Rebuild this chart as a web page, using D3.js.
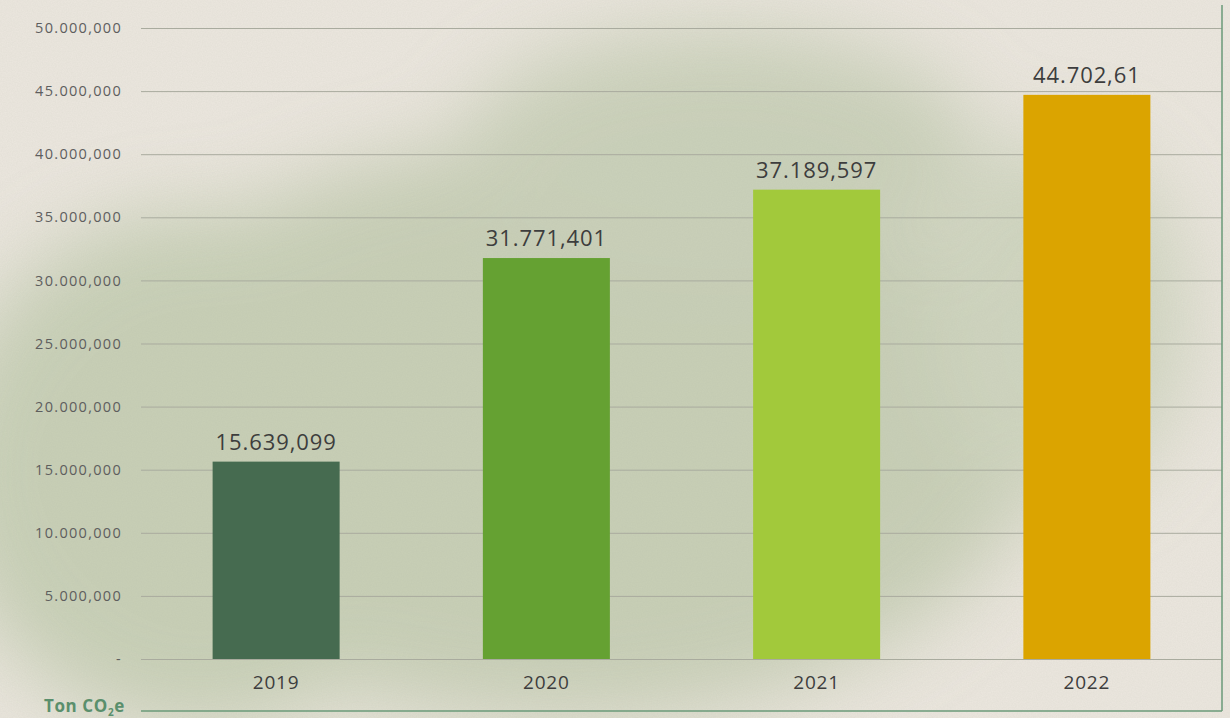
<!DOCTYPE html>
<html>
<head>
<meta charset="utf-8">
<script src="https://cdn.jsdelivr.net/npm/d3@7"></script>
<style>
  body { margin: 0; background: #ebe6de; }
  svg { display: block; }
</style>
</head>
<body>
<div id="chart"></div>
<script>
// data
var years = ["2019", "2020", "2021", "2022"];
var values = [15639099, 31771401, 37189597, 44702610];
var valueLabels = ["15.639,099", "31.771,401", "37.189,597", "44.702,61"];
var barColors = ["#466b50", "#65a132", "#a2c93b", "#dba400"];
var yTicks = [0, 5e6, 10e6, 15e6, 20e6, 25e6, 30e6, 35e6, 40e6, 45e6, 50e6];
var yTickLabels = ["-", "5.000,000", "10.000,000", "15.000,000", "20.000,000", "25.000,000",
                   "30.000,000", "35.000,000", "40.000,000", "45.000,000", "50.000,000"];

var width = 1230, height = 718;
var plotLeft = 141, plotRight = 1222, plotTop = 28, plotBottom = 659;
var font = "'Open Sans', 'DejaVu Sans', sans-serif";

var svg = d3.select("#chart").append("svg")
    .attr("width", width).attr("height", height);

var defs = svg.append("defs");
var blur = defs.append("filter").attr("id", "blur")
    .attr("x", "-50%").attr("y", "-50%").attr("width", "200%").attr("height", "200%");
blur.append("feGaussianBlur").attr("stdDeviation", 40);

var grain = defs.append("filter").attr("id", "grain");
grain.append("feTurbulence").attr("type", "fractalNoise").attr("baseFrequency", 0.8)
    .attr("numOctaves", 2).attr("seed", 3);
grain.append("feColorMatrix").attr("type", "matrix")
    .attr("values", "0 0 0 0 0.35  0 0 0 0 0.38  0 0 0 0 0.3  0 0 0 0.12 0");

// paper + watercolor wash
svg.append("rect").attr("width", width).attr("height", height).attr("fill", "#ece7df");
var wash = svg.append("g").attr("filter", "url(#blur)").attr("opacity", 0.7);
wash.append("ellipse").attr("cx", 560).attr("cy", 430).attr("rx", 480).attr("ry", 290).attr("fill", "#b9c5a6");
wash.append("ellipse").attr("cx", 200).attr("cy", 470).attr("rx", 260).attr("ry", 260).attr("fill", "#b9c6a6");
wash.append("ellipse").attr("cx", 720).attr("cy", 150).attr("rx", 260).attr("ry", 120).attr("fill", "#bdc8ab");
wash.append("ellipse").attr("cx", 1060).attr("cy", 320).attr("rx", 130).attr("ry", 180).attr("fill", "#c4ceb3");
svg.append("rect").attr("width", width).attr("height", height).attr("filter", "url(#grain)");

var x = d3.scaleBand().domain(years).range([plotLeft, plotRight]).paddingInner(0.53).paddingOuter(0.265);
var y = d3.scaleLinear().domain([0, 50e6]).range([plotBottom, plotTop]);

// gridlines + y labels
var yAxis = d3.axisLeft(y).tickValues(yTicks)
    .tickSize(-(plotRight - plotLeft)).tickPadding(19)
    .tickFormat(function(d, i) { return yTickLabels[i]; });
var gy = svg.append("g").attr("transform", "translate(" + plotLeft + ",0)").call(yAxis);
gy.select(".domain").remove();
gy.selectAll(".tick line").attr("stroke", "#a9ab9e").attr("stroke-width", 1);
gy.selectAll(".tick text").attr("fill", "#5e5e5e").style("font-family", font)
    .style("font-size", "14.5px").style("letter-spacing", "1.3px").attr("x", -19);

// bars
svg.append("g").selectAll("rect").data(values).join("rect")
    .attr("x", function(d, i) { return x(years[i]); })
    .attr("y", function(d) { return y(d); })
    .attr("width", x.bandwidth())
    .attr("height", function(d) { return y(0) - y(d); })
    .attr("fill", function(d, i) { return barColors[i]; });

// value labels
svg.append("g").selectAll("text").data(values).join("text")
    .attr("x", function(d, i) { return x(years[i]) + x.bandwidth() / 2; })
    .attr("y", function(d) { return y(d) - 12; })
    .attr("text-anchor", "middle")
    .attr("fill", "#3d3d3d")
    .style("font-family", font).style("font-size", "22px").style("letter-spacing", "0.9px")
    .text(function(d, i) { return valueLabels[i]; });

// x axis
var xAxis = d3.axisBottom(x).tickSize(0).tickPadding(17);
var gx = svg.append("g").attr("transform", "translate(0," + plotBottom + ")").call(xAxis);
gx.select(".domain").remove();
gx.selectAll(".tick text").attr("fill", "#3d3d3d").style("font-family", font)
    .style("font-size", "19px").style("letter-spacing", "0.8px");

// frame lines in green
svg.append("line").attr("x1", plotRight).attr("x2", plotRight).attr("y1", 5).attr("y2", 711)
    .attr("stroke", "#6a9a78").attr("stroke-width", 1.5);
svg.append("line").attr("x1", plotLeft).attr("x2", plotRight).attr("y1", 711).attr("y2", 711)
    .attr("stroke", "#6a9a78").attr("stroke-width", 1.5);

// unit label
var unit = svg.append("text").attr("x", 44).attr("y", 712)
    .attr("fill", "#5a8f6c").style("font-family", font).style("font-size", "17px")
    .style("font-weight", "bold").style("letter-spacing", "0.6px");
unit.append("tspan").text("Ton CO");
unit.append("tspan").attr("dy", 4).style("font-size", "10px").text("2");
unit.append("tspan").attr("dy", -4).text("e");
</script>
</body>
</html>
